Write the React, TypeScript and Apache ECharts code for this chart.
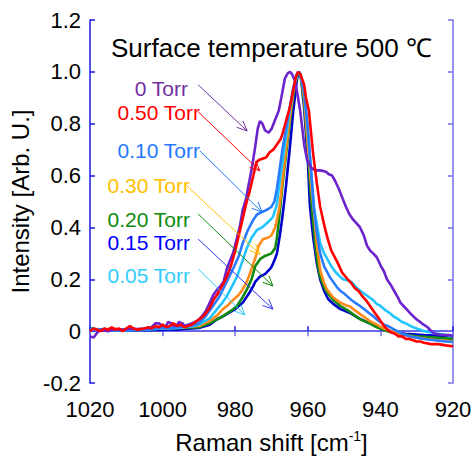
import React, { useEffect, useRef } from "react";
import * as echarts from "echarts";

const FONT = "'Liberation Sans', Arial, Helvetica, sans-serif";

// x axis (Raman shift, cm-1) and y axis (Intensity) tick settings
const xMin = 920;
const xMax = 1020;
const xStep = 20;
const yMin = -0.2;
const yMax = 1.2;
const yStep = 0.2;

const seriesNames = ["0.15 Torr", "0.20 Torr", "0.30 Torr", "0.05 Torr", "0.10 Torr", "0 Torr", "0.50 Torr"];
const seriesColors = ["#0000cc", "#108a10", "#ff8c1a", "#22c4ff", "#2a7cff", "#6c22cc", "#ff0000"];

const torr000: [number, number][] = [
  [1020, -0.02], [1019, -0.025], [1018, -0.005], [1017, 0.005], [1015, 0.0], [1013, 0.008], [1011, 0.005],
  [1009, 0.01], [1007, 0.008], [1005, 0.01], [1004, 0.012], [1003, 0.015], [1002, 0.03], [1001, 0.03],
  [1000, 0.02], [999, 0.02], [998.5, 0.035], [997.5, 0.03], [997, 0.02], [996, 0.025], [995.5, 0.035],
  [994.5, 0.03], [994, 0.02], [993, 0.025], [992, 0.03], [991, 0.035], [990, 0.045], [989, 0.06],
  [988, 0.08], [987, 0.11], [986, 0.14], [985, 0.16], [984, 0.175], [983.2, 0.19], [982.3, 0.24],
  [981.5, 0.27], [980.6, 0.3], [979.5, 0.36], [978.7, 0.405], [977.9, 0.47], [977, 0.51], [976.5, 0.55],
  [975.8, 0.6], [975.4, 0.63], [974.5, 0.71], [973.8, 0.78], [973.2, 0.81], [972.5, 0.8], [971.8, 0.775],
  [970.8, 0.765], [970, 0.78], [969, 0.815], [968, 0.85], [967.3, 0.9], [966.3, 0.975], [965.5, 0.995],
  [964.9, 1.0], [964.3, 0.99], [963.5, 0.965], [962.8, 0.91], [962.1, 0.85], [961.5, 0.78], [961, 0.72],
  [960.2, 0.66], [959, 0.63], [958, 0.62], [956.5, 0.62], [955, 0.615], [954.2, 0.605], [953.3, 0.6],
  [952.5, 0.58], [951.5, 0.55], [950.5, 0.515], [949.5, 0.48], [948.5, 0.45], [947.5, 0.43], [946.5, 0.415],
  [945.6, 0.4], [944.6, 0.37], [943.7, 0.33], [942.8, 0.31], [942, 0.3], [941, 0.285], [940, 0.255],
  [939, 0.23], [938.2, 0.2], [937, 0.175], [936, 0.15], [935, 0.125], [934.5, 0.11], [933.5, 0.095],
  [932.5, 0.08], [931.5, 0.065], [931, 0.058], [930, 0.045], [929, 0.035], [928.3, 0.027], [927, 0.015],
  [926, 0.0], [925, -0.01], [923, -0.015], [921, -0.015], [920, -0.02],
];

const torr050: [number, number][] = [
  [1020, 0.0], [1019, 0.01], [1018, 0.005], [1017, 0.0], [1016, 0.01], [1015, 0.005], [1014, 0.015],
  [1013, 0.005], [1012, 0.01], [1011, 0.0], [1010, 0.01], [1009, 0.02], [1008, 0.01], [1007, 0.005],
  [1005, 0.01], [1004, 0.015], [1003, 0.01], [1002, 0.02], [1001, 0.015], [1000, 0.025], [999, 0.015],
  [998, 0.02], [997, 0.03], [996, 0.02], [995, 0.025], [994, 0.015], [993, 0.02], [992, 0.025],
  [991, 0.035], [990, 0.045], [989, 0.055], [988, 0.07], [987, 0.09], [986, 0.12], [985, 0.14],
  [984, 0.165], [983, 0.19], [982, 0.22], [981, 0.26], [980, 0.31], [979, 0.37], [978, 0.43], [977, 0.49],
  [976, 0.54], [975, 0.6], [974.2, 0.65], [973.5, 0.66], [972.5, 0.665], [971.5, 0.67], [970.5, 0.69],
  [969.5, 0.7], [968.5, 0.72], [967.5, 0.74], [967, 0.76], [966, 0.81], [965, 0.86], [964, 0.93],
  [963.3, 0.98], [962.7, 1.0], [962, 0.99], [961, 0.95], [960.5, 0.9], [959.7, 0.85], [958.5, 0.68],
  [957.5, 0.57], [956.6, 0.48], [955.5, 0.41], [954.5, 0.355], [953.5, 0.31], [952, 0.27], [950.5, 0.225],
  [949, 0.2], [948, 0.185], [947, 0.165], [946, 0.155], [945, 0.135], [944, 0.12], [943, 0.1], [942, 0.08],
  [941, 0.06], [940, 0.04], [939, 0.02], [938, 0.005], [937, -0.005], [936, -0.01], [935, -0.02],
  [934, -0.02], [933, -0.03], [932, -0.03], [931, -0.035], [930, -0.04], [929, -0.04], [928, -0.045],
  [926, -0.05], [924, -0.05], [922, -0.055], [920, -0.058],
];

const torr010: [number, number][] = [
  [1020, 0.01], [1018, 0.005], [1016, 0.008], [1014, 0.003], [1012, 0.006], [1010, 0.004], [1008, 0.007],
  [1006, 0.005], [1004, 0.008], [1002, 0.01], [1000, 0.012], [998, 0.012], [996, 0.015], [994, 0.018],
  [992, 0.022], [990, 0.03], [988, 0.06], [986, 0.1], [984.5, 0.13], [983.4, 0.16], [982, 0.2],
  [980.6, 0.24], [979, 0.29], [977.9, 0.34], [976.5, 0.39], [975, 0.43], [974, 0.45], [972.5, 0.46],
  [971, 0.47], [970, 0.48], [969.2, 0.5], [968.5, 0.55], [968, 0.6], [967, 0.7], [966, 0.78], [965, 0.86],
  [964, 0.94], [963, 0.99], [962.5, 1.0], [962, 0.99], [961, 0.92], [960, 0.78], [959, 0.6], [958.3, 0.47],
  [957.5, 0.38], [956.6, 0.3], [955.5, 0.25], [954, 0.21], [953, 0.19], [952, 0.17], [951, 0.155],
  [950, 0.145], [949.2, 0.135], [948, 0.12], [947, 0.11], [945.6, 0.097], [944, 0.08], [943, 0.068],
  [942, 0.058], [941, 0.045], [940, 0.035], [939, 0.025], [938, 0.02], [936, 0.005], [934, -0.01],
  [932, -0.02], [930, -0.025], [928, -0.03], [925, -0.035], [922, -0.04], [920, -0.042],
];

const torr005: [number, number][] = [
  [1020, 0.008], [1018, 0.004], [1016, 0.006], [1014, 0.002], [1012, 0.005], [1010, 0.003], [1008, 0.006],
  [1006, 0.004], [1004, 0.007], [1002, 0.008], [1000, 0.01], [998, 0.01], [996, 0.012], [994, 0.015],
  [992, 0.018], [990, 0.025], [987, 0.05], [985, 0.085], [983.5, 0.11], [982.3, 0.135], [981, 0.17],
  [979.5, 0.21], [978, 0.27], [976.8, 0.32], [975.5, 0.36], [974, 0.39], [972.6, 0.4], [971, 0.42],
  [969.6, 0.44], [968.5, 0.49], [968, 0.55], [967, 0.65], [966, 0.75], [965, 0.85], [964, 0.93],
  [963, 0.99], [962.5, 1.0], [962, 0.99], [961, 0.92], [960, 0.78], [959, 0.6], [958.3, 0.48],
  [957.5, 0.41], [956.6, 0.34], [955.5, 0.3], [954.7, 0.28], [953.5, 0.25], [952.5, 0.23], [951.5, 0.215],
  [950.3, 0.2], [949, 0.195], [948, 0.19], [947, 0.175], [946, 0.16], [945, 0.15], [944, 0.14],
  [943, 0.13], [942, 0.12], [941, 0.105], [940, 0.097], [939, 0.085], [938, 0.075], [937, 0.065],
  [936.5, 0.058], [935, 0.045], [934, 0.035], [933, 0.03], [932, 0.022], [931, 0.015], [930, 0.01],
  [929, 0.005], [928, 0.0], [926, -0.005], [924, -0.01], [922, -0.015], [920, -0.02],
];

const torr030: [number, number][] = [
  [1020, 0.005], [1018, 0.008], [1016, 0.004], [1014, 0.012], [1012, 0.006], [1010, 0.008], [1008, 0.005],
  [1006, 0.008], [1004, 0.01], [1002, 0.012], [1000, 0.01], [998, 0.014], [996, 0.012], [994, 0.015],
  [992, 0.018], [990, 0.02], [987, 0.04], [985, 0.06], [983.4, 0.085], [982, 0.1], [980.6, 0.12],
  [979, 0.14], [978, 0.16], [976.8, 0.19], [975.5, 0.24], [974.5, 0.28], [973.5, 0.33], [972.3, 0.355],
  [971, 0.36], [970, 0.37], [969, 0.4], [968.5, 0.43], [967.8, 0.48], [967, 0.58], [966, 0.7],
  [965, 0.82], [964, 0.92], [963, 0.99], [962.5, 1.0], [962, 0.99], [961, 0.9], [960, 0.72], [959, 0.55],
  [958.3, 0.46], [957.5, 0.33], [956.5, 0.23], [955.5, 0.185], [954.7, 0.16], [953, 0.13], [951, 0.11],
  [949.5, 0.1], [948.4, 0.095], [947, 0.08], [945, 0.06], [943, 0.04], [941, 0.025], [939, 0.01],
  [937, 0.0], [934.6, -0.01], [932, -0.02], [930, -0.025], [927, -0.03], [924, -0.035], [920, -0.04],
];

const torr020: [number, number][] = [
  [1020, 0.012], [1018, 0.006], [1016, 0.008], [1014, 0.004], [1012, 0.007], [1010, 0.005], [1008, 0.008],
  [1006, 0.006], [1004, 0.008], [1002, 0.008], [1000, 0.01], [998, 0.01], [996, 0.012], [994, 0.012],
  [992, 0.014], [990, 0.015], [987, 0.03], [985, 0.045], [983.4, 0.058], [981, 0.08], [979.5, 0.097],
  [978, 0.13], [976.8, 0.16], [975.5, 0.2], [974.5, 0.25], [973, 0.28], [971.8, 0.29], [970, 0.3],
  [969, 0.32], [968.5, 0.36], [968, 0.42], [967.5, 0.49], [967, 0.56], [966, 0.68], [965, 0.8],
  [964, 0.91], [963, 0.98], [962.5, 1.0], [962, 0.99], [961, 0.88], [960, 0.7], [959.3, 0.55],
  [958.8, 0.46], [958, 0.34], [957.3, 0.26], [956.6, 0.21], [955.5, 0.17], [954.7, 0.15], [953, 0.12],
  [951, 0.097], [949, 0.08], [947, 0.06], [945.6, 0.046], [943, 0.03], [941, 0.015], [938.2, 0.0],
  [935, -0.01], [930, -0.02], [925, -0.025], [920, -0.03],
];

const torr015: [number, number][] = [
  [1020, 0.01], [1018, 0.006], [1016, 0.004], [1014, 0.007], [1012, 0.003], [1010, 0.005], [1008, 0.003],
  [1006, 0.005], [1004, 0.004], [1002, 0.006], [1000, 0.005], [998, 0.007], [996, 0.006], [994, 0.008],
  [992, 0.01], [990, 0.012], [987, 0.025], [985, 0.046], [983, 0.06], [981.4, 0.073], [980, 0.085],
  [977.9, 0.11], [976, 0.15], [975, 0.175], [974.5, 0.19], [973.2, 0.21], [971.8, 0.22], [970.4, 0.24],
  [969.9, 0.25], [969, 0.28], [968.5, 0.3], [967.7, 0.37], [967, 0.44], [966.5, 0.5], [966, 0.56],
  [965, 0.7], [964, 0.85], [963, 0.97], [962.5, 1.0], [962, 0.99], [961, 0.86], [960, 0.66],
  [959.4, 0.48], [958.5, 0.36], [957.5, 0.26], [956.6, 0.2], [955.5, 0.155], [954.4, 0.124],
  [953, 0.105], [951, 0.085], [948.4, 0.07], [946, 0.05], [943.7, 0.035], [941, 0.02], [938, 0.005],
  [936.5, -0.005], [933, -0.01], [928, -0.015], [924, -0.018], [920, -0.02],
];

const seriesData = [torr015, torr020, torr030, torr005, torr010, torr000, torr050];

// annotation labels (text, colours, arrow start and end in data coordinates)
const labelTexts = ["0 Torr", "0.50 Torr", "0.10 Torr", "0.30 Torr", "0.20 Torr", "0.15 Torr", "0.05 Torr"];
const labelColors = ["#7030a0", "#ff0000", "#1f78ff", "#ffc000", "#0f8a0f", "#0000ff", "#33ccff"];
const arrowColors = ["#7030a0", "#ff0000", "#1f78ff", "#ffc000", "#0f8a0f", "#3333ee", "#33ccff"];
const labelAnchors: [number, number][] = [
  [993.0, 0.934], [989.7, 0.842], [989.7, 0.695], [992.45, 0.56], [992.45, 0.429], [992.45, 0.34], [992.45, 0.216],
];
const arrowStarts: [number, number][] = [
  [990.2, 0.95], [990.2, 0.846], [989.7, 0.695], [993.3, 0.56], [990.2, 0.452], [990.2, 0.355], [990.2, 0.24],
];
const arrowEnds: [number, number][] = [
  [976.7, 0.772], [973.2, 0.618], [972.6, 0.459], [973.2, 0.297], [969.6, 0.174], [969.6, 0.085], [977.3, 0.062],
];

const titleText = "Surface temperature 500 \u2103";

export default function App() {
  const ref = useRef<HTMLDivElement>(null);

  useEffect(() => {
    const chart = echarts.init(ref.current!, null, { renderer: "svg" });
    const mainAxisColor = "#1a1ae6";
    const sideAxisColor = "#7272e6";

    const xCommon = {
      type: "value",
      min: xMin,
      max: xMax,
      interval: xStep,
      inverse: true,
      splitLine: { show: false },
      axisTick: { inside: true, length: 5 },
    };
    const yCommon = {
      type: "value",
      min: yMin,
      max: yMax,
      interval: yStep,
      splitLine: { show: false },
      axisTick: { inside: true, length: 5 },
    };

    chart.setOption({
      animation: false,
      grid: { left: 90, right: 22, top: 20, bottom: 73, containLabel: false, outerBoundsMode: "none" },
      xAxis: [
        {
          ...xCommon,
          position: "bottom",
          axisLine: { lineStyle: { color: mainAxisColor, width: 1.5 } },
          axisTick: { inside: true, length: 5, lineStyle: { color: mainAxisColor, width: 1.5 } },
          axisLabel: {
            color: "#000",
            fontSize: 22,
            fontFamily: FONT,
            margin: 15,
            showMinLabel: true,
            showMaxLabel: true,
            formatter: (v: number) => String(Math.round(v)),
          },
          name: "{n|Raman shift [cm}{s|-1}{n|]}",
          nameLocation: "middle",
          nameGap: 46,
          nameTextStyle: {
            rich: {
              n: { fontSize: 24, fontFamily: FONT, color: "#000" },
              s: { fontSize: 14, fontFamily: FONT, color: "#000", padding: [0, 0, 12, 0] },
            },
          },
        },
        {
          ...xCommon,
          position: "top",
          axisLine: { lineStyle: { color: sideAxisColor, width: 1.5 } },
          axisTick: { inside: true, length: 5, lineStyle: { color: sideAxisColor, width: 1.5 } },
          axisLabel: { show: false },
        },
      ],
      yAxis: [
        {
          ...yCommon,
          position: "left",
          axisLine: { lineStyle: { color: mainAxisColor, width: 1.5 } },
          axisTick: { inside: true, length: 5, lineStyle: { color: mainAxisColor, width: 1.5 } },
          axisLabel: {
            color: "#000",
            fontSize: 22,
            fontFamily: FONT,
            margin: 9,
            formatter: (v: number) => (Math.abs(v) < 1e-9 ? "0" : v.toFixed(1)),
          },
          name: "Intensity [Arb. U.]",
          nameLocation: "middle",
          nameGap: 46,
          nameTextStyle: { fontSize: 24, fontFamily: FONT, color: "#000" },
        },
        {
          ...yCommon,
          position: "right",
          axisLine: { lineStyle: { color: sideAxisColor, width: 1.5 } },
          axisTick: { inside: true, length: 5, lineStyle: { color: sideAxisColor, width: 1.5 } },
          axisLabel: { show: false },
        },
      ],
      series: seriesData.map((d, i) => ({
        name: seriesNames[i],
        type: "line",
        xAxisIndex: 0,
        yAxisIndex: 0,
        data: d,
        showSymbol: false,
        symbol: "none",
        smooth: false,
        lineStyle: { color: seriesColors[i], width: 2.6 },
        z: 2 + i,
      })),
    });

    const toPx = (p: [number, number]) =>
      chart.convertToPixel({ xAxisIndex: 0, yAxisIndex: 0 }, p) as number[];

    const graphics: any[] = [
      {
        type: "text",
        left: 111,
        top: 35,
        style: { text: titleText, fontSize: 26, fontFamily: FONT, fill: "#000" },
        z: 20,
      },
    ];

    labelTexts.forEach((t, i) => {
      const a = toPx(labelAnchors[i]);
      const s = toPx(arrowStarts[i]);
      const e = toPx(arrowEnds[i]);
      graphics.push({
        type: "text",
        x: a[0],
        y: a[1],
        style: {
          text: t,
          fontSize: 21,
          fontFamily: FONT,
          fill: labelColors[i],
          align: "right",
          verticalAlign: "middle",
        },
        z: 20,
      });
      const dx = e[0] - s[0];
      const dy = e[1] - s[1];
      const len = Math.sqrt(dx * dx + dy * dy);
      const ux = dx / len;
      const uy = dy / len;
      const L = 11;
      const th = (24 * Math.PI) / 180;
      const arm = (sign: number) => {
        const c = Math.cos(sign * th);
        const sn = Math.sin(sign * th);
        const rx = ux * c - uy * sn;
        const ry = ux * sn + uy * c;
        return [e[0] - L * rx, e[1] - L * ry];
      };
      graphics.push({
        type: "line",
        shape: { x1: s[0], y1: s[1], x2: e[0], y2: e[1] },
        style: { stroke: arrowColors[i], lineWidth: 1 },
        z: 21,
      });
      graphics.push({
        type: "polyline",
        shape: { points: [arm(1), [e[0], e[1]], arm(-1)] },
        style: { stroke: arrowColors[i], lineWidth: 1, fill: "none" },
        z: 21,
      });
    });

    chart.setOption({ graphic: graphics });

    return () => chart.dispose();
  }, []);

  return (
    <div
      ref={ref}
      style={{ position: "fixed", left: 0, top: 0, width: 475, height: 456, background: "#fff" }}
    />
  );
}
